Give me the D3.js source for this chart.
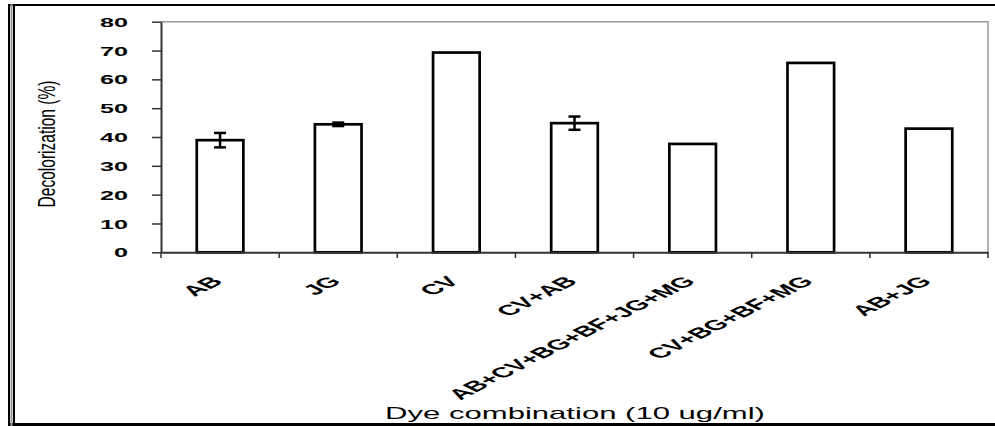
<!DOCTYPE html>
<html><head><meta charset="utf-8">
<script src="https://cdn.jsdelivr.net/npm/d3@7"></script>
<style>body{margin:0;background:#fff} svg{display:block}</style>
</head><body>
<svg id="c" width="995" height="426"></svg>
<script>
const categories = ["AB","JG","CV","CV+AB","AB+CV+BG+BF+JG+MG","CV+BG+BF+MG","AB+JG"];
const values = [38.9, 44.4, 69.3, 44.8, 37.6, 65.7, 42.9];
const errors = [2.5, 0.6, 0, 2.3, 0, 0, 0];
const yTicks = [0,10,20,30,40,50,60,70,80];
const yTitle = "Decolorization (%)";
const xTitle = "Dye combination (10 ug/ml)";

(function () {
const svg = d3.select("#c");
const pL = 161, pR = 988, pT = 21.7, pB = 252.3;
const font = "'Liberation Sans', Arial, Helvetica, sans-serif";
const x = d3.scaleBand().domain(categories).range([pL, pR]).padding(0);
const y = d3.scaleLinear().domain([0, 80]).range([pB, pT]);

// outer frame
svg.append("line").attr("x1", 8).attr("x2", 995).attr("y1", 5).attr("y2", 5)
  .attr("stroke", "#000").attr("stroke-width", 2);
svg.append("line").attr("x1", 8).attr("x2", 995).attr("y1", 424.5).attr("y2", 424.5)
  .attr("stroke", "#000").attr("stroke-width", 3);
[[9, "#000"], [11.5, "#999"], [14, "#000"]].forEach(([lx, col]) => {
  svg.append("line").attr("x1", lx).attr("x2", lx).attr("y1", 4).attr("y2", 426)
    .attr("stroke", col).attr("stroke-width", 2);
});

// plot area border
svg.append("path").attr("d", `M${pL},${pT}H${pR}V${pB}`)
  .attr("fill", "none").attr("stroke", "#999").attr("stroke-width", 1.5);

// bars
const bw = x.bandwidth() * 0.3945;
const data = categories.map((c, i) => ({c, v: values[i], e: errors[i]}));
svg.append("g").selectAll("rect").data(data).join("rect")
  .attr("x", d => x(d.c) + (x.bandwidth() - bw) / 2)
  .attr("y", d => y(d.v))
  .attr("width", bw)
  .attr("height", d => y(0) - y(d.v))
  .attr("fill", "#fff").attr("stroke", "#000").attr("stroke-width", 2.7);

// error bars
const eg = svg.append("g").attr("stroke", "#000").attr("stroke-width", 2.5);
data.filter(d => d.e > 0).forEach(d => {
  const cx = x(d.c) + x.bandwidth() / 2;
  eg.append("line").attr("x1", cx).attr("x2", cx).attr("y1", y(d.v - d.e)).attr("y2", y(d.v + d.e));
  eg.append("line").attr("x1", cx - 6).attr("x2", cx + 6).attr("y1", y(d.v - d.e)).attr("y2", y(d.v - d.e));
  eg.append("line").attr("x1", cx - 6).attr("x2", cx + 6).attr("y1", y(d.v + d.e)).attr("y2", y(d.v + d.e));
});

// y axis
const gy = svg.append("g").attr("transform", `translate(${pL},0)`)
  .call(d3.axisLeft(y).tickValues(yTicks).tickSize(9).tickSizeOuter(0).tickPadding(0));
gy.attr("font-family", font).attr("font-size", 12.6).attr("font-weight", "bold");
gy.select(".domain").attr("stroke", "#333").attr("stroke-width", 2);
gy.selectAll(".tick line").attr("stroke", "#333").attr("stroke-width", 1.5);
gy.selectAll(".tick text").attr("x", null).attr("dy", "0.36em").attr("fill", "#000")
  .attr("text-anchor", "end").attr("transform", "translate(-33,0) scale(2,1)");

// x axis
const gx = svg.append("g").attr("transform", `translate(0,${pB})`)
  .call(d3.axisBottom(x).tickSize(0).tickSizeOuter(0).tickPadding(0));
gx.attr("font-family", font).attr("font-size", 14.5).attr("font-weight", "bold");
gx.select(".domain").attr("stroke", "#333").attr("stroke-width", 2);
gx.selectAll(".tick text").attr("y", null).attr("dy", null).attr("fill", "#000")
  .attr("text-anchor", "end").attr("transform", "translate(4,30) scale(2,1) rotate(-45)");
const bounds = categories.map(c => x(c)).concat([x.range()[1]]);
gx.selectAll(".bt").data(bounds).join("line").attr("class", "bt")
  .attr("x1", d => d).attr("x2", d => d).attr("y1", 0).attr("y2", 5.7)
  .attr("stroke", "#333").attr("stroke-width", 1.5);

// titles
const yt = svg.append("text").text(yTitle)
  .attr("font-family", font).attr("font-size", 16).attr("text-anchor", "middle").attr("fill", "#000");
const ylen = yt.node().getComputedTextLength();
yt.attr("transform", `translate(54.5,144) rotate(-90) scale(${127 / ylen},1.45)`);

const xt = svg.append("text").text(xTitle)
  .attr("font-family", font).attr("font-size", 16).attr("text-anchor", "middle").attr("fill", "#000");
const xlen = xt.node().getComputedTextLength();
xt.attr("transform", `translate(575,419.3) scale(${380 / xlen},1)`);
})();
</script>
</body></html>
